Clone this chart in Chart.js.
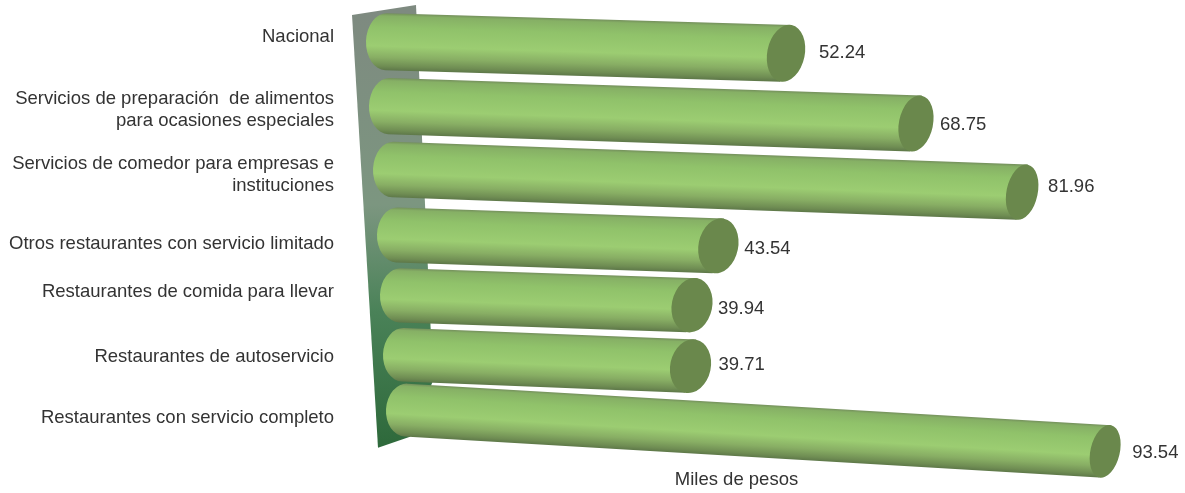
<!DOCTYPE html>
<html>
<head>
<meta charset="utf-8">
<style>
  html, body { margin: 0; padding: 0; background: #fff; }
  #wrap { width: 1185px; height: 493px; }
</style>
<script src="https://cdn.jsdelivr.net/npm/chart.js@4/dist/chart.umd.js"></script>
</head>
<body>
<div id="wrap"><canvas id="chart"></canvas></div>
<script>
const categories = [
  ['Nacional'],
  ['Servicios de preparación  de alimentos', 'para ocasiones especiales'],
  ['Servicios de comedor para empresas e', 'instituciones'],
  ['Otros restaurantes con servicio limitado'],
  ['Restaurantes de comida para llevar'],
  ['Restaurantes de autoservicio'],
  ['Restaurantes con servicio completo']
];
const values = [52.24, 68.75, 81.96, 43.54, 39.94, 39.71, 93.54];
const axisTitle = 'Miles de pesos';

// the original is a 3D picture: each row is pushed and tilted a little
const rowShift = [0, 3, 7, 11, 14, 17, 20];
const rowNudge = [0, 3, 5, 9, 8, 6, 0];
const rowLean = [0.029, 0.033, 0.036, 0.034, 0.034, 0.04, 0.059];
const rowStretch = [1.005, 0.9945, 0.99, 0.98, 0.9765, 0.968, 0.961];
const labelNudge = [-5, 4, 5, 9, -3, 2, 8];
const valueNudge = [[8, 0], [-1, 1], [1, -5], [1, 3], [1, 4], [3, -1], [2, 2]];

const FAMILY = '"Liberation Sans", Arial, sans-serif';
const FONT = '18.5px ' + FAMILY;
const TEXT = '#333333';

function drawCylinder(ctx, ox, oy, len, lean, r, capRx) {
  const leftRx = 20;
  const tilt = 0.17;
  const dx = r * Math.tan(tilt);
  ctx.save();
  ctx.translate(ox, oy);
  ctx.rotate(Math.atan(lean));
  ctx.filter = 'blur(0.7px)';

  const g = ctx.createLinearGradient(0, -r, 0, r);
  g.addColorStop(0, '#748f5c');
  g.addColorStop(0.05, '#86b065');
  g.addColorStop(0.25, '#90c26a');
  g.addColorStop(0.58, '#9ccd72');
  g.addColorStop(0.78, '#88ae64');
  g.addColorStop(0.93, '#6f8d53');
  g.addColorStop(1, '#5e7849');

  ctx.beginPath();
  ctx.ellipse(0, 0, leftRx, r, 0, Math.PI / 2, Math.PI * 1.5);
  ctx.lineTo(len + dx, -r);
  ctx.lineTo(len - dx, r);
  ctx.closePath();
  ctx.fillStyle = g;
  ctx.fill();

  // cut end of the tube
  ctx.beginPath();
  ctx.ellipse(len, 0, capRx, r * 1.01, tilt, 0, Math.PI * 2);
  ctx.fillStyle = '#6a884c';
  ctx.fill();
  ctx.restore();
}

const tubesPlugin = {
  id: 'tubes',
  beforeDatasetsDraw(chart) {
    const { ctx, chartArea } = chart;
    const x0 = chart.scales.x.getPixelForValue(0);
    const top = chartArea.top, bottom = chartArea.bottom;
    // back wall
    const g = ctx.createLinearGradient(0, top, 0, bottom);
    g.addColorStop(0, '#7e8a80');
    g.addColorStop(0.45, '#7c9680');
    g.addColorStop(0.7, '#4a8258');
    g.addColorStop(1, '#2f6a3c');
    ctx.save();
    ctx.beginPath();
    ctx.moveTo(x0 - 14, top + 4);
    ctx.lineTo(x0 + 50, top - 6);
    ctx.lineTo(x0 + 67, bottom - 60);
    ctx.lineTo(x0 + 44, bottom - 4);
    ctx.lineTo(x0 + 12, bottom + 7);
    ctx.closePath();
    ctx.fillStyle = g;
    ctx.fill();
    ctx.restore();
  },
  afterDatasetsDraw(chart) {
    const { ctx, scales } = chart;
    const n = values.length;
    const x0 = scales.x.getPixelForValue(0);
    values.forEach((v, i) => {
      const t = i / (n - 1);
      const r = 28.5 - 2 * t;
      const lean = rowLean[i];
      const ox = x0 + rowShift[i] + 20;
      const oy = scales.y.getPixelForValue(i) + rowNudge[i];
      const ex = x0 + rowShift[i] + (scales.x.getPixelForValue(v) - x0) * rowStretch[i];
      const len = (ex - ox) / Math.cos(Math.atan(lean));
      // longer tubes show a narrower end
      const capRx = 24.5 - 0.0137 * (ex - x0 - rowShift[i]);
      drawCylinder(ctx, ox, oy, len, lean, r, capRx);

      ctx.save();
      ctx.font = FONT;
      ctx.fillStyle = TEXT;
      ctx.textBaseline = 'middle';
      ctx.textAlign = 'left';
      ctx.fillText(v.toFixed(2), ex + 25 + valueNudge[i][0], oy + lean * (ex - ox) + valueNudge[i][1]);

      // category labels, right aligned against the wall
      ctx.textAlign = 'right';
      const lines = categories[i];
      const ly = scales.y.getPixelForValue(i) + rowNudge[i] + labelNudge[i];
      lines.forEach((line, k) => {
        ctx.fillText(line, x0 - 32, ly + (k - (lines.length - 1) / 2) * 22);
      });
      ctx.restore();
    });
  }
};

new Chart(document.getElementById('chart'), {
  type: 'bar',
  data: {
    labels: categories,
    datasets: [{ data: values, backgroundColor: 'rgba(0,0,0,0)', borderWidth: 0 }]
  },
  options: {
    indexAxis: 'y',
    responsive: true,
    maintainAspectRatio: false,
    animation: false,
    layout: { padding: { left: 330, right: 42, top: 11, bottom: 2 } },
    plugins: { legend: { display: false }, tooltip: { enabled: false } },
    scales: {
      x: {
        min: -4.5,
        max: 97.125,
        grid: { display: false, drawTicks: false },
        border: { display: false },
        ticks: { display: false },
        title: {
          display: true,
          text: axisTitle,
          color: TEXT,
          font: { family: FAMILY, size: 18.5 },
          padding: { top: 28, bottom: 0 }
        }
      },
      y: { display: false }
    }
  },
  plugins: [tubesPlugin]
});
</script>
</body>
</html>
